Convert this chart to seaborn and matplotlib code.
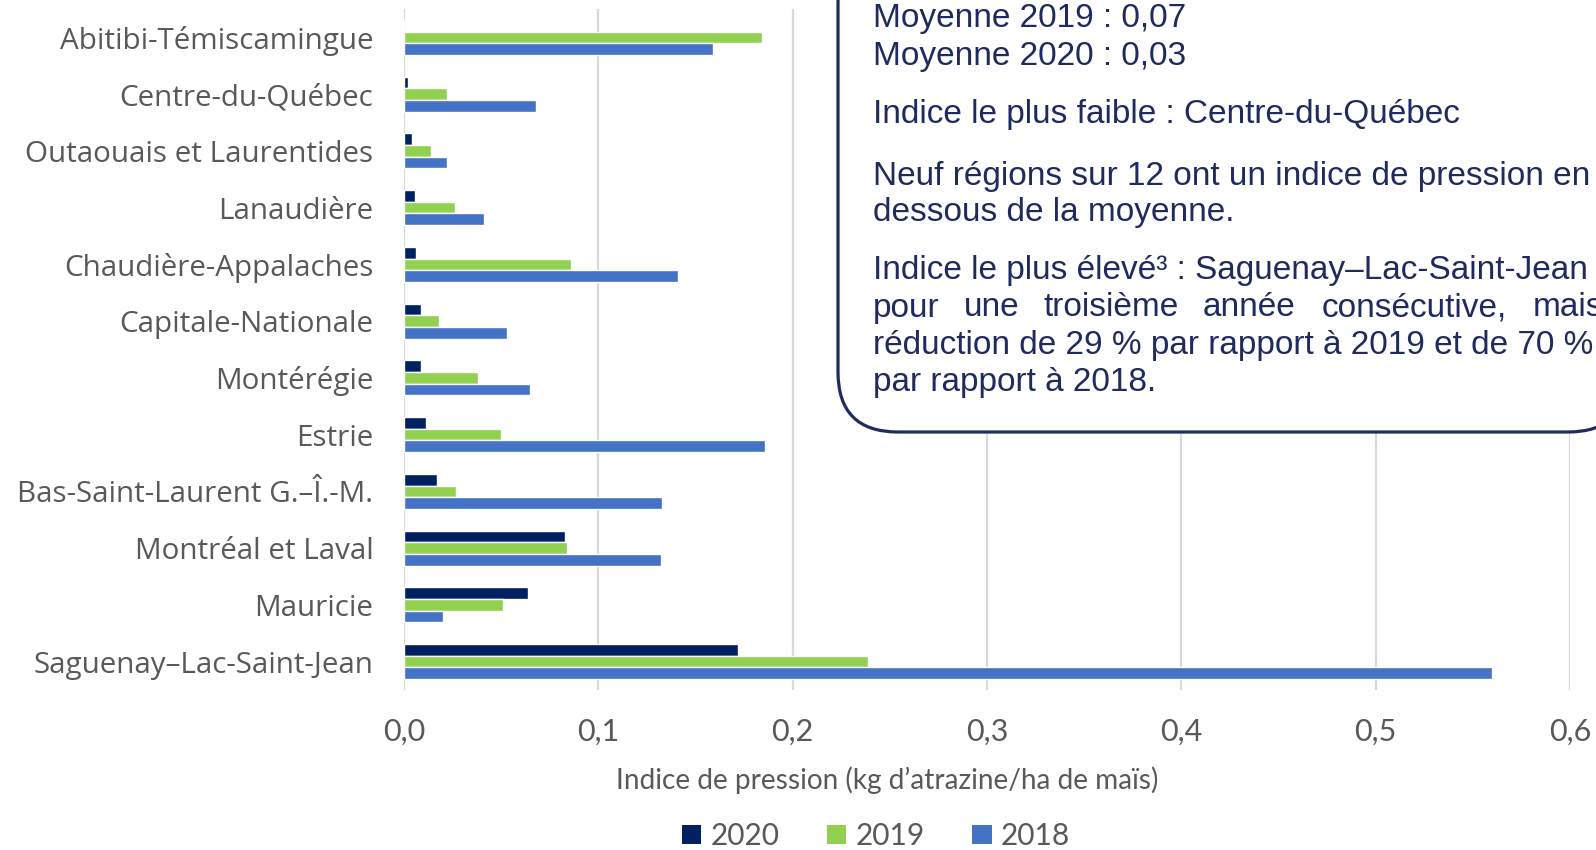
import pandas as pd
import matplotlib
matplotlib.use('Agg')
import matplotlib.pyplot as plt
import seaborn as sns
from matplotlib.patches import FancyBboxPatch, Patch

# Données
regions = ['Abitibi-Témiscamingue', 'Centre-du-Québec', 'Outaouais et Laurentides',
           'Lanaudière', 'Chaudière-Appalaches', 'Capitale-Nationale', 'Montérégie',
           'Estrie', 'Bas-Saint-Laurent G.–Î.-M.', 'Montréal et Laval', 'Mauricie',
           'Saguenay–Lac-Saint-Jean']
annees = ['2020', '2019', '2018']
v2020 = [0.0, 0.002, 0.004, 0.0055, 0.006, 0.009, 0.009, 0.0115, 0.017, 0.083, 0.064, 0.172]
v2019 = [0.184, 0.022, 0.014, 0.026, 0.086, 0.018, 0.038, 0.050, 0.027, 0.084, 0.051, 0.239]
v2018 = [0.159, 0.068, 0.022, 0.041, 0.141, 0.053, 0.065, 0.186, 0.133, 0.132, 0.020, 0.560]
couleurs = ['#002060', '#92D050', '#4472C4']
ticks = [0.0, 0.1, 0.2, 0.3, 0.4, 0.5, 0.6]
tick_labels = ['0,0', '0,1', '0,2', '0,3', '0,4', '0,5', '0,6']

df = pd.DataFrame({'region': regions, '2020': v2020, '2019': v2019, '2018': v2018})
df = df.melt(id_vars='region', var_name='annee', value_name='valeur')

sns.set_theme(style='white')
plt.rcParams['font.family'] = ['Open Sans', 'DejaVu Sans']

gris = '#595959'
marine = '#1F2B5E'
etroite = ['Lato', 'DejaVu Sans']
arial = ['Liberation Sans', 'DejaVu Sans']

fig = plt.figure(figsize=(15.96, 8.5), dpi=100)
ax = fig.add_axes([404 / 1596, 1 - 690 / 850, 1166 / 1596, 681 / 850])

sns.barplot(data=df, x='valeur', y='region', hue='annee', hue_order=annees,
            palette=couleurs, orient='h', width=0.62, saturation=1,
            legend=False, ax=ax)

ax.set_xlim(0, 0.6)
ax.set_xticks(ticks)
ax.set_xticklabels(tick_labels, fontsize=22, color=gris, family=etroite)
ax.tick_params(axis='x', length=0, pad=20)
ax.tick_params(axis='y', length=0, pad=22, labelsize=21.3, labelcolor=gris)
ax.grid(axis='x', color='#D9D9D9', linewidth=1.6)
ax.set_axisbelow(True)
for s in ax.spines.values():
    s.set_visible(False)
ax.set_xlabel('')
ax.set_ylabel('')

fig.text(887 / 1596, 1 - 780 / 850, 'Indice de pression (kg d’atrazine/ha de maïs)',
         ha='center', va='center', fontsize=20.2, color=gris, family=etroite)

# Légende
poignees = [Patch(facecolor=c, edgecolor='none', label=a) for a, c in zip(annees, couleurs)]
fig.legend(handles=poignees, loc='center', bbox_to_anchor=(876 / 1596, 1 - 836 / 850),
           ncol=3, frameon=False, handlelength=0.65, handleheight=0.65, handletextpad=0.3,
           columnspacing=1.6, prop={'family': etroite, 'size': 21.5},
           labelcolor=gris)

# Encadré
boite = FancyBboxPatch((8.38, 4.18), 7.9, 4.9, boxstyle='round,pad=0,rounding_size=0.6',
                       transform=fig.dpi_scale_trans, facecolor='white', edgecolor=marine,
                       linewidth=2.3, zorder=5)
fig.patches.append(boite)

lignes = [
    (18, 'Moyenne 2019 : 0,07'),
    (57, 'Moyenne 2020 : 0,03'),
    (115, 'Indice le plus faible : Centre-du-Québec'),
    (177, 'Neuf régions sur 12 ont un indice de pression en'),
    (212, 'dessous de la moyenne.'),
    (270, 'Indice le plus élevé³ : Saguenay–Lac-Saint-Jean'),
    (346, 'réduction de 29 % par rapport à 2019 et de 70 %'),
    (383, 'par rapport à 2018.'),
]
for y, t in lignes:
    fig.text(873 / 1596, 1 - y / 850, t, ha='left', va='center', fontsize=24,
             color=marine, family=arial, zorder=6)

# ligne justifiée
mots = [(873, 'pour'), (964, 'une'), (1043, 'troisième'), (1203, 'année'),
        (1322, 'consécutive,'), (1533, 'mais')]
for x, m in mots:
    fig.text(x / 1596, 1 - 308 / 850, m, ha='left', va='center', fontsize=24,
             color=marine, family=arial, zorder=6)

fig.savefig('out.png', dpi=100)
